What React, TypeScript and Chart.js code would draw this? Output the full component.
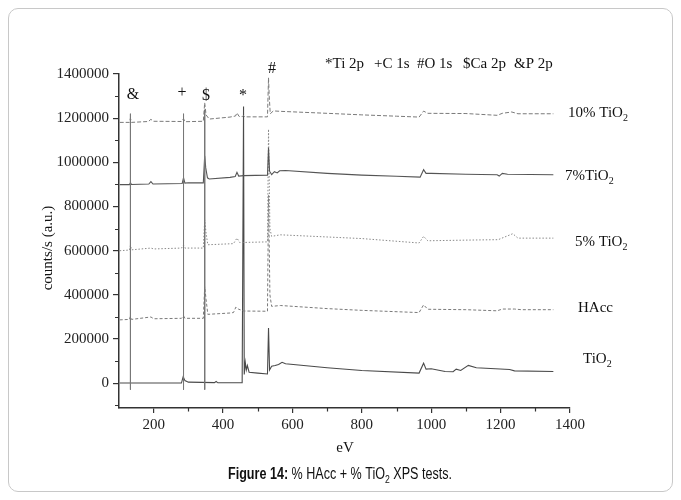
import React, { useEffect, useRef } from "react";
import { Chart, registerables } from "chart.js";

Chart.register(...registerables);

// ---- Data (eV vs counts/s) ----
const ev10 = [102, 130, 133, 136, 185, 192, 199, 280, 286, 290, 343, 347, 351, 360, 420, 436, 440, 446, 455, 459, 462, 528, 531, 533, 536, 545, 565, 700, 800, 900, 965, 978, 990, 1100, 1190, 1205, 1232, 1250, 1352];
const counts10 = [1181000, 1181000, 1200000, 1181000, 1185000, 1195000, 1186000, 1185000, 1198000, 1184000, 1186000, 1270000, 1215000, 1196000, 1205000, 1210000, 1224000, 1208000, 1207000, 1212000, 1206000, 1206000, 1383000, 1300000, 1220000, 1233000, 1231000, 1222000, 1215000, 1209000, 1205000, 1232000, 1222000, 1221000, 1213000, 1222000, 1228000, 1220000, 1220000];

const ev7 = [102, 130, 133, 136, 186, 192, 198, 282, 286, 290, 300, 343, 347, 350, 355, 360, 420, 435, 440, 445, 459, 528, 531, 534, 540, 548, 556, 563, 580, 700, 800, 900, 968, 978, 985, 1000, 1100, 1190, 1196, 1205, 1220, 1352];
const counts7 = [899000, 899000, 908000, 900000, 902000, 913000, 902000, 904000, 930000, 906000, 908000, 907000, 1030000, 975000, 930000, 925000, 932000, 936000, 955000, 938000, 940000, 942000, 1066000, 960000, 945000, 958000, 952000, 962000, 963000, 950000, 942000, 937000, 933000, 967000, 950000, 950000, 946000, 944000, 938000, 950000, 946000, 944000];

const ev5 = [102, 130, 133, 136, 192, 200, 280, 286, 290, 343, 347, 351, 356, 430, 440, 448, 528, 531, 535, 540, 565, 800, 965, 978, 990, 1100, 1193, 1235, 1250, 1352];
const counts5 = [600000, 603000, 625000, 604000, 612000, 608000, 612000, 625000, 612000, 612000, 740000, 680000, 627000, 632000, 657000, 637000, 640000, 1150000, 700000, 665000, 672000, 655000, 635000, 665000, 645000, 648000, 650000, 677000, 657000, 657000];

const evHAcc = [102, 130, 133, 136, 192, 200, 280, 286, 290, 343, 347, 351, 356, 420, 430, 437, 445, 460, 528, 531, 535, 540, 565, 700, 800, 965, 978, 990, 1100, 1190, 1205, 1240, 1260, 1352];
const countsHAcc = [287000, 289000, 303000, 289000, 300000, 292000, 294000, 305000, 294000, 294000, 437000, 380000, 312000, 318000, 320000, 345000, 335000, 327000, 326000, 850000, 400000, 348000, 352000, 338000, 330000, 320000, 355000, 335000, 333000, 328000, 336000, 336000, 333000, 333000];

const evTiO2 = [102, 280, 285, 290, 300, 375, 380, 385, 455, 459, 461, 464, 467, 470, 475, 500, 528, 531, 534, 540, 550, 560, 570, 580, 700, 800, 965, 978, 985, 1000, 1040, 1063, 1072, 1085, 1107, 1130, 1226, 1240, 1352];
const countsTiO2 = [1000, 1000, 30000, 12000, 5000, 3000, 8000, 2000, 3000, 1253000, 40000, 95000, 60000, 80000, 50000, 46000, 42000, 250000, 60000, 77000, 80000, 85000, 95000, 88000, 70000, 58000, 46000, 91000, 64000, 66000, 53000, 52000, 64000, 58000, 81000, 70000, 62000, 56000, 53000];

// marker lines (& P 2p, + C 1s, $ Ca 2p)
const markerEv = [133, 286, 347];
const markerTop = [1220000, 1220000, 1238000];
const markerBottom = -29000;

const X_MIN = 100;
const X_MAX = 1400;
const Y_MIN = -112000;
const Y_MAX = 1400000;
const X_TICKS = [200, 400, 600, 800, 1000, 1200, 1400];
const Y_TICKS = [0, 200000, 400000, 600000, 800000, 1000000, 1200000, 1400000];
const X_MINOR = [300, 500, 700, 900, 1100, 1300];
const Y_MINOR = [-100000, 100000, 300000, 500000, 700000, 900000, 1100000, 1300000];

const legendParts = ["*Ti 2p", "+C 1s", "#O 1s", "$Ca 2p", "&P 2p"];
const seriesLabels = ["10% TiO", "7%TiO", "5% TiO", "HAcc", "TiO"];

const SERIF = '"Liberation Serif", "Times New Roman", serif';

function pts(xs: number[], ys: number[]) {
  return xs.map((x, i) => ({ x, y: ys[i] }));
}

function markerPts() {
  const out: { x: number; y: number | null }[] = [];
  markerEv.forEach((x, i) => {
    out.push({ x, y: markerTop[i] });
    out.push({ x, y: markerBottom });
    out.push({ x, y: null });
  });
  return out;
}

type Part = { t: string; sub?: boolean; bold?: boolean };

function drawParts(ctx: CanvasRenderingContext2D, x: number, y: number, parts: Part[], size: number, family: string) {
  let cx = x;
  parts.forEach((p) => {
    const fs = p.sub ? Math.round(size * 0.66) : size;
    ctx.font = `${p.bold ? "bold " : ""}${fs}px ${family}`;
    ctx.fillText(p.t, cx, p.sub ? y + 4 : y);
    cx += ctx.measureText(p.t).width;
  });
}

const annotPlugin = {
  id: "annot",
  afterDraw(chart: any) {
    const ctx: CanvasRenderingContext2D = chart.ctx;
    const xs = chart.scales.x;
    const ys = chart.scales.y;
    const area = chart.chartArea;
    ctx.save();
    // minor ticks
    ctx.strokeStyle = "#333";
    ctx.lineWidth = 1.2;
    ctx.beginPath();
    Y_MINOR.forEach((v) => {
      const py = Math.round(ys.getPixelForValue(v)) + 0.5;
      ctx.moveTo(area.left - 4, py);
      ctx.lineTo(area.left, py);
    });
    X_MINOR.forEach((v) => {
      const px = Math.round(xs.getPixelForValue(v)) + 0.5;
      ctx.moveTo(px, area.bottom);
      ctx.lineTo(px, area.bottom + 3.5);
    });
    ctx.stroke();

    ctx.fillStyle = "#111";
    ctx.textBaseline = "alphabetic";
    // legend text at top
    const legX = [317, 366, 409, 455, 506];
    ctx.textAlign = "left";
    ctx.font = `15px ${SERIF}`;
    legendParts.forEach((t, i) => ctx.fillText(t, legX[i], 60));

    // peak markers
    ctx.textAlign = "center";
    ctx.font = `16px ${SERIF}`;
    ctx.fillText("&", 125, 91);
    ctx.fillText("+", 174, 89);
    ctx.fillText("$", 198, 92);
    ctx.fillText("*", 235, 92);
    ctx.fillText("#", 264, 65);

    // series labels
    ctx.textAlign = "left";
    const labPos = [
      [560, 109],
      [557, 172],
      [567, 238],
      [570, 304],
      [575, 355],
    ];
    seriesLabels.forEach((t, i) => {
      const parts: Part[] = i === 3 ? [{ t }] : [{ t }, { t: "2", sub: true }];
      drawParts(ctx, labPos[i][0], labPos[i][1], parts, 15, SERIF);
    });

    // axis titles
    ctx.textAlign = "center";
    ctx.font = `15px ${SERIF}`;
    ctx.fillText("eV", 337, 444);
    ctx.save();
    ctx.translate(44, 240);
    ctx.rotate(-Math.PI / 2);
    ctx.fillText("counts/s (a.u.)", 0, 0);
    ctx.restore();

    // caption
    const SANS = '"Liberation Sans Narrow", "Liberation Sans", Arial, sans-serif';
    const cap: Part[] = [
      { t: "Figure 14:", bold: true },
      { t: " % HAcc + % TiO" },
      { t: "2", sub: true },
      { t: " XPS tests." },
    ];
    ctx.textAlign = "left";
    let w = 0;
    cap.forEach((p) => {
      const fs = p.sub ? Math.round(16 * 0.66) : 16;
      ctx.font = `${p.bold ? "bold " : ""}${fs}px ${SANS}`;
      w += ctx.measureText(p.t).width;
    });
    const target = 224;
    const sc = target / w;
    ctx.save();
    ctx.translate(220, 471);
    ctx.scale(sc, 1);
    drawParts(ctx, 0, 0, cap, 16, SANS);
    ctx.restore();

    ctx.restore();
  },
};

export default function App() {
  const ref = useRef<HTMLCanvasElement | null>(null);
  useEffect(() => {
    if (!ref.current) return;
    const tickFont = { family: SERIF, size: 15 };
    const chart = new Chart(ref.current, {
      type: "line",
      data: {
        datasets: [
          { label: "markers", data: markerPts() as any, borderColor: "#777", borderWidth: 1, pointRadius: 0, spanGaps: false },
          { label: "10% TiO2", data: pts(ev10, counts10), borderColor: "#7a7a7a", borderWidth: 1, borderDash: [4, 2], pointRadius: 0 },
          { label: "7% TiO2", data: pts(ev7, counts7), borderColor: "#555", borderWidth: 1.1, pointRadius: 0 },
          { label: "5% TiO2", data: pts(ev5, counts5), borderColor: "#8a8a8a", borderWidth: 1, borderDash: [1.5, 1.8], pointRadius: 0 },
          { label: "HAcc", data: pts(evHAcc, countsHAcc), borderColor: "#7a7a7a", borderWidth: 1, borderDash: [3, 2], pointRadius: 0 },
          { label: "TiO2", data: pts(evTiO2, countsTiO2), borderColor: "#4a4a4a", borderWidth: 1.1, pointRadius: 0 },
        ],
      },
      options: {
        animation: false,
        responsive: false,
        devicePixelRatio: 1,
        layout: { padding: { left: 0, top: 66, right: 103, bottom: 0 } },
        plugins: { legend: { display: false }, tooltip: { enabled: false } },
        elements: { line: { tension: 0 } },
        scales: {
          x: {
            type: "linear",
            min: X_MIN,
            max: X_MAX,
            afterBuildTicks: (s: any) => {
              s.ticks = X_TICKS.map((v) => ({ value: v }));
            },
            afterFit: (s: any) => {
              s.height = 84;
            },
            border: { display: true, color: "#333", width: 1.5 },
            grid: { display: true, drawOnChartArea: false, drawTicks: true, tickLength: 5, tickColor: "#333", lineWidth: 1.2 },
            ticks: { padding: 3, font: tickFont, color: "#222", maxRotation: 0, autoSkip: false, callback: (v: any) => String(v) },
          },
          y: {
            type: "linear",
            min: Y_MIN,
            max: Y_MAX,
            afterBuildTicks: (s: any) => {
              s.ticks = Y_TICKS.map((v) => ({ value: v }));
            },
            afterFit: (s: any) => {
              s.width = 111;
            },
            border: { display: true, color: "#333", width: 1.5 },
            grid: { display: true, drawOnChartArea: false, drawTicks: true, tickLength: 6, tickColor: "#333", lineWidth: 1.2 },
            ticks: { padding: 4, font: tickFont, color: "#222", autoSkip: false, callback: (v: any) => String(v) },
          },
        },
      } as any,
      plugins: [annotPlugin as any],
    });
    return () => chart.destroy();
  }, []);

  return (
    <div style={{ position: "relative", width: 665, height: 484 }}>
      <canvas ref={ref} width={665} height={484} style={{ display: "block", width: 665, height: 484 }} />
      <div
        style={{
          position: "absolute",
          left: 0,
          top: 0,
          right: 0,
          bottom: 0,
          border: "1px solid #c8c8c8",
          borderRadius: 10,
          pointerEvents: "none",
        }}
      />
    </div>
  );
}
